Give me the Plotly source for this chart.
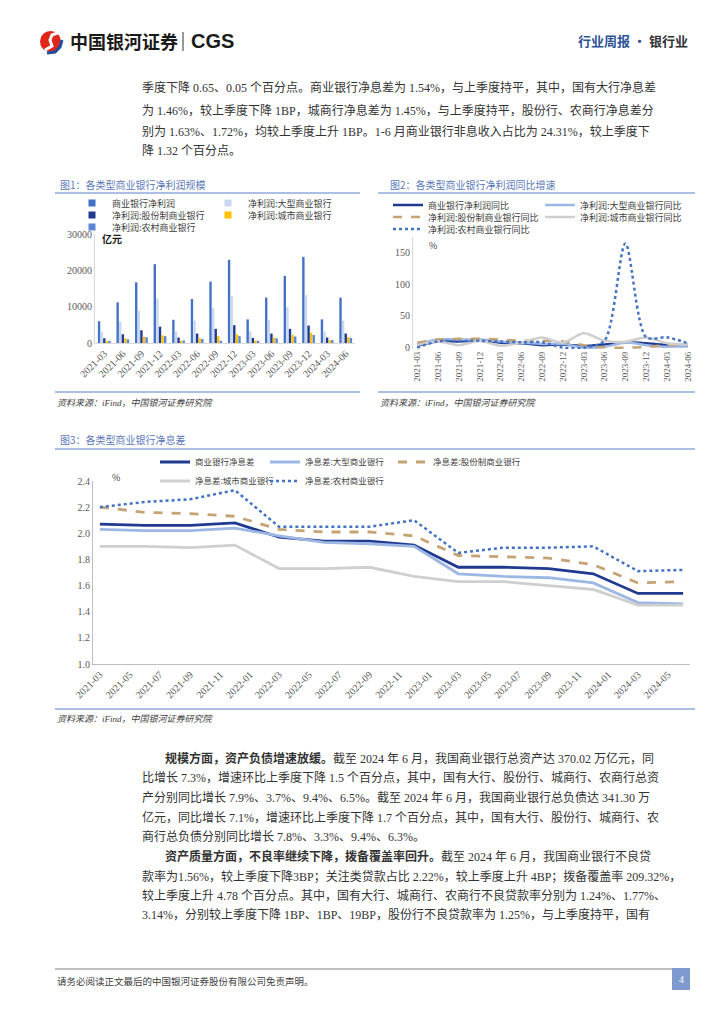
import plotly.graph_objects as go

# page is drawn inside the default 8px body margin of the html page
OFF = 8
W, H = 724 - OFF, 1024 - OFF


def X(px):
    return (px - OFF) / W


def Y(py):
    return 1 - (py - OFF) / H


CJK = "Noto Sans CJK SC"
MIX = "Liberation Serif, Noto Sans CJK SC"
SERIF = "Liberation Serif"

# ---------------- data ----------------
quarters = ["2021-03", "2021-06", "2021-09", "2021-12", "2022-03", "2022-06", "2022-09",
            "2022-12", "2023-03", "2023-06", "2023-09", "2023-12", "2024-03", "2024-06"]

# Figure 1: net profit (亿元)
profit_all = [6000, 11200, 16700, 21700, 6400, 12100, 16900, 22900, 6500, 12500, 18500, 23700, 6500, 12500]
profit_large = [3000, 5900, 8900, 12200, 3200, 6200, 9600, 12900, 3200, 6300, 9900, 13200, 3200, 6200]
profit_joint = [1300, 2400, 3500, 4500, 1500, 2600, 3900, 4900, 1400, 2600, 3900, 4800, 1500, 2600]
profit_city = [550, 1300, 1700, 2100, 600, 1300, 1900, 2400, 700, 1500, 2200, 2800, 800, 1600]
profit_rural = [600, 1000, 1600, 1900, 700, 1100, 600, 1900, 600, 1300, 1800, 2200, 800, 1400]

# Figure 2: net profit YoY (%)
yoy_all = [2, 9, 9, 10, 7, 6, 3, 4, 1.5, 4, 7.5, 6, 3, 1.5]
yoy_large = [4, 12, 12, 12, 9, 7, 5, 5, -1, 0.5, 7, 3, 0.5, 1.5]
yoy_joint = [7, 12, 13, 13, 12, 10, 10, 9, 3, -0.5, -1, 0, 3, 4]
yoy_city = [3, 9, 3, 10, 2, 7, 15, 7, 22, 10, 8.5, 15, 6, 4]
yoy_rural = [-1, 9, 9, 10, 8.5, 7.5, 7.5, -1, -1, 10, 165, 15.5, 15.5, 6]

# Figure 3: net interest margin (%)
nim_all = [2.07, 2.06, 2.06, 2.08, 1.97, 1.94, 1.94, 1.91, 1.74, 1.74, 1.73, 1.69, 1.54, 1.54]
nim_large = [2.03, 2.02, 2.02, 2.04, 1.98, 1.93, 1.92, 1.90, 1.69, 1.67, 1.66, 1.62, 1.47, 1.46]
nim_joint = [2.20, 2.16, 2.15, 2.13, 2.03, 2.01, 2.01, 1.98, 1.83, 1.82, 1.81, 1.76, 1.62, 1.63]
nim_city = [1.90, 1.90, 1.89, 1.91, 1.73, 1.73, 1.74, 1.67, 1.63, 1.63, 1.60, 1.57, 1.45, 1.45]
nim_rural = [2.20, 2.24, 2.26, 2.33, 2.05, 2.05, 2.05, 2.10, 1.85, 1.89, 1.89, 1.90, 1.71, 1.72]

fig1_ticks = [0, 10000, 20000, 30000]
fig2_ticks = [0, 50, 100, 150]
fig3_ticks = [1.0, 1.2, 1.4, 1.6, 1.8, 2.0, 2.2, 2.4]

fig = go.Figure()

# ---------------- figure 1 bars ----------------
bar_specs = [
    ("商业银行净利润", profit_all, "#4472C4", "legend"),
    ("净利润:大型商业银行", profit_large, "#C9D8F0", "legend2"),
    ("净利润:股份制商业银行", profit_joint, "#1F3A8F", "legend3"),
    ("净利润:城市商业银行", profit_city, "#FFC000", "legend4"),
    ("净利润:农村商业银行", profit_rural, "#5B87D6", "legend5"),
]
for name, vals, color, lg in bar_specs:
    fig.add_trace(go.Bar(x=quarters, y=vals, name=name, xaxis="x", yaxis="y", showlegend=False,
                         legendgroup=name, marker=dict(color=color, line=dict(width=0))))
# small square legend keys (legend-only entries, linked to the bars)
for name, vals, color, lg in bar_specs:
    fig.add_trace(go.Scatter(x=[None], y=[None], name=name, mode="markers", xaxis="x", yaxis="y",
                             legend=lg, legendgroup=name, hoverinfo="skip",
                             marker=dict(symbol="square", size=7, color=color)))

# ---------------- figure 2 lines ----------------
line2_specs = [
    ("商业银行净利润同比", yoy_all, "#1F3A8F", "solid", 2.5, "legend6"),
    ("净利润:大型商业银行同比", yoy_large, "#9DB7E5", "solid", 2.5, "legend7"),
    ("净利润:股份制商业银行同比", yoy_joint, "#C4A374", "dash", 2.5, "legend8"),
    ("净利润:城市商业银行同比", yoy_city, "#CFCFCF", "solid", 2.5, "legend9"),
    ("净利润:农村商业银行同比", yoy_rural, "#4472C4", "dot", 2.5, "legend10"),
]
for name, vals, color, dash, w, lg in line2_specs:
    fig.add_trace(go.Scatter(x=quarters, y=vals, name=name, mode="lines", xaxis="x2", yaxis="y2",
                             legend=lg, line=dict(color=color, dash=dash, width=w, shape="spline", smoothing=0.8)))

# ---------------- figure 3 lines ----------------
line3_specs = [
    ("商业银行净息差", nim_all, "#1F3A8F", "solid", 2.8, "legend11"),
    ("净息差:大型商业银行", nim_large, "#9DB7E5", "solid", 2.8, "legend12"),
    ("净息差:股份制商业银行", nim_joint, "#C4A374", "dash", 2.8, "legend13"),
    ("净息差:城市商业银行", nim_city, "#CFCFCF", "solid", 2.8, "legend14"),
    ("净息差:农村商业银行", nim_rural, "#4472C4", "dot", 2.5, "legend15"),
]
for name, vals, color, dash, w, lg in line3_specs:
    fig.add_trace(go.Scatter(x=quarters, y=vals, name=name, mode="lines", xaxis="x3", yaxis="y3",
                             legend=lg, line=dict(color=color, dash=dash, width=w)))

tickfont = dict(family=SERIF, size=10, color="#595959")


def legend_at(xpx, ypx, size=9):
    return dict(x=X(xpx), y=Y(ypx), xanchor="left", yanchor="middle", orientation="h",
                bgcolor="rgba(0,0,0,0)", borderwidth=0, itemwidth=30,
                font=dict(family=CJK, size=size, color="#404040"))


layout = dict(
    width=W, height=H, margin=dict(l=0, r=0, t=0, b=0),
    paper_bgcolor="white", plot_bgcolor="rgba(0,0,0,0)",
    barmode="group", bargap=0.3, bargroupgap=0.08, showlegend=True,
    xaxis=dict(domain=[X(95), X(355)], anchor="y", type="category", range=[-0.5, 13.5],
               tickangle=-45, tickfont=tickfont, showline=True, linecolor="#D9D9D9",
               showgrid=False, ticks="", automargin=False, fixedrange=True),
    yaxis=dict(domain=[Y(343), Y(234)], anchor="x", range=[0, 30000], tickvals=fig1_ticks,
               tickformat="d", tickfont=tickfont, showline=True, linecolor="#D9D9D9",
               showgrid=False, zeroline=False, ticks="", automargin=False),
    xaxis2=dict(domain=[X(413), X(692)], anchor="y2", type="category", range=[-0.2, 13.2],
                tickangle=-90, tickfont=dict(family=SERIF, size=9, color="#595959"),
                showline=False, showgrid=False, ticks="", automargin=False),
    yaxis2=dict(domain=[Y(348.9), Y(237.3)], anchor="x2", range=[-3, 175], tickvals=fig2_ticks,
                tickfont=tickfont, showline=True, linecolor="#D9D9D9", showgrid=False,
                zeroline=False, ticks="", automargin=False),
    xaxis3=dict(domain=[X(93), X(690)], anchor="y3", type="date",
                range=["2021-02-15", "2024-06-15"], tick0="2021-03-01", dtick="M2",
                tickformat="%Y-%m", tickangle=-45, tickfont=tickfont, showline=True,
                linecolor="#BFBFBF", showgrid=False, ticks="", automargin=False),
    yaxis3=dict(domain=[Y(664), Y(481)], anchor="x3", range=[1.0, 2.4], tickvals=fig3_ticks,
                tickformat=".1f", tickfont=tickfont, showline=True, linecolor="#BFBFBF",
                showgrid=False, zeroline=False, ticks="", automargin=False),
    legend=legend_at(72, 203),
    legend2=legend_at(208, 203),
    legend3=legend_at(72, 215),
    legend4=legend_at(208, 215),
    legend5=legend_at(72, 227),
    legend6=legend_at(388, 205),
    legend7=legend_at(540, 205),
    legend8=legend_at(388, 217),
    legend9=legend_at(540, 217),
    legend10=legend_at(388, 229),
    legend11=legend_at(155, 462, 8.5),
    legend12=legend_at(265, 462, 8.5),
    legend13=legend_at(393, 462, 8.5),
    legend14=legend_at(155, 481, 8.5),
    legend15=legend_at(265, 481, 8.5),
)
fig.update_layout(**layout)

annotations = []


def text(xpx, ypx, s, size=12, color="#333333", family=MIX, xanchor="left", yanchor="middle"):
    annotations.append(dict(x=X(xpx), y=Y(ypx), xref="paper", yref="paper", text=s,
                            showarrow=False, xanchor=xanchor, yanchor=yanchor,
                            font=dict(family=family, size=size, color=color)))


# header
text(68, 41, "<b>中国银河证券</b>", size=18, color="#1A1A1A", family=CJK)
text(189, 41, "<b>CGS</b>", size=20, color="#1A1A1A", family="Liberation Sans")
text(690, 41, "<b>行业周报 · </b><b><span style='color:#333333'>银行业</span></b>", size=13,
     color="#2E5395", family=CJK, xanchor="right")

# paragraph 1
para1 = [
    "季度下降 0.65、0.05 个百分点。商业银行净息差为 1.54%，与上季度持平，其中，国有大行净息差",
    "为 1.46%，较上季度下降 1BP，城商行净息差为 1.45%，与上季度持平，股份行、农商行净息差分",
    "别为 1.63%、1.72%，均较上季度上升 1BP。1-6 月商业银行非息收入占比为 24.31%，较上季度下",
    "降 1.32 个百分点。",
]
for i, s in enumerate(para1):
    text(140, [88, 110, 131, 151][i], s)

# chart titles / units / sources
title_color = "#5A78B8"
text(58, 184, "图1：各类型商业银行净利润规模", size=10, color=title_color, family=CJK)
text(388, 184, "图2：各类型商业银行净利润同比增速", size=10, color=title_color, family=CJK)
text(58, 439, "图3：各类型商业银行净息差", size=10, color=title_color, family=CJK)
text(100, 238, "<b>亿元</b>", size=10, color="#1A1A1A", family=CJK)
text(427, 245, "%", size=9, color="#404040", family=CJK)
text(110, 477, "%", size=9, color="#404040", family=CJK)
src = "<i>资料来源：iFind，中国银河证券研究院</i>"
text(55, 403, src, size=9, color="#404040")
text(378, 403, src, size=9, color="#404040")
text(55, 719, src, size=9, color="#404040")

# paragraphs 2 & 3
para2 = [
    (163, 758, "<b>规模方面，资产负债增速放缓。</b>截至 2024 年 6 月，我国商业银行总资产达 370.02 万亿元，同"),
    (140, 777, "比增长 7.3%，增速环比上季度下降 1.5 个百分点，其中，国有大行、股份行、城商行、农商行总资"),
    (140, 797, "产分别同比增长 7.9%、3.7%、9.4%、6.5%。截至 2024 年 6 月，我国商业银行总负债达 341.30 万"),
    (140, 817, "亿元，同比增长 7.1%，增速环比上季度下降 1.7 个百分点，其中，国有大行、股份行、城商行、农"),
    (140, 836, "商行总负债分别同比增长 7.8%、3.3%、9.4%、6.3%。"),
    (163, 856, "<b>资产质量方面，不良率继续下降，拨备覆盖率回升。</b>截至 2024 年 6 月，我国商业银行不良贷"),
    (140, 876, "款率为1.56%，较上季度下降3BP；关注类贷款占比 2.22%，较上季度上升 4BP；拨备覆盖率 209.32%，"),
    (140, 895, "较上季度上升 4.78 个百分点。其中，国有大行、城商行、农商行不良贷款率分别为 1.24%、1.77%、"),
    (140, 914, "3.14%，分别较上季度下降 1BP、1BP、19BP，股份行不良贷款率为 1.25%，与上季度持平，国有"),
]
for xp, yp, s in para2:
    text(xp, yp, s)

# footer
text(55, 981, "请务必阅读正文最后的中国银河证券股份有限公司免责声明。", size=9.5, color="#404040", family=CJK)
text(681, 979, "4", size=10, color="white", family=SERIF, xanchor="center")

fig.update_layout(annotations=annotations)

shapes = []


def hline(x0, x1, ypx, color="#8FAADC", width=1.5):
    shapes.append(dict(type="line", xref="paper", yref="paper", x0=X(x0), x1=X(x1),
                       y0=Y(ypx), y1=Y(ypx), line=dict(color=color, width=width)))


hline(55, 360, 193)
hline(378, 695, 193)
hline(55, 360, 392)
hline(378, 695, 392)
hline(55, 695, 449)
hline(55, 695, 709)
hline(55, 672, 969, color="#7F7F7F", width=1)

# page number box
shapes.append(dict(type="rect", xref="paper", yref="paper", x0=X(672), x1=X(690), y0=Y(990), y1=Y(968),
                   fillcolor="#7F9ACF", line=dict(width=0), layer="below"))
# logo separator
shapes.append(dict(type="line", xref="paper", yref="paper", x0=X(183), x1=X(183), y0=Y(32), y1=Y(51),
                   line=dict(color="#333333", width=1)))


def path(points):
    return "M" + " L".join(f"{X(px):.5f},{Y(py):.5f}" for px, py in points)


# logo emblem
shapes.append(dict(type="circle", xref="paper", yref="paper", x0=X(40), x1=X(61), y0=Y(52), y1=Y(31),
                   fillcolor="#E0251B", line=dict(width=0)))
shapes.append(dict(type="path", xref="paper", yref="paper",
                   path=path([(45, 50), (52, 46), (50, 40), (52, 35), (60, 32)]),
                   line=dict(color="white", width=3)))
shapes.append(dict(type="path", xref="paper", yref="paper",
                   path=path([(47, 53), (55, 52), (60, 47), (62, 40)]),
                   line=dict(color="#1F4E9C", width=3)))

fig.update_layout(shapes=shapes)

fig.write_html("out.html")
